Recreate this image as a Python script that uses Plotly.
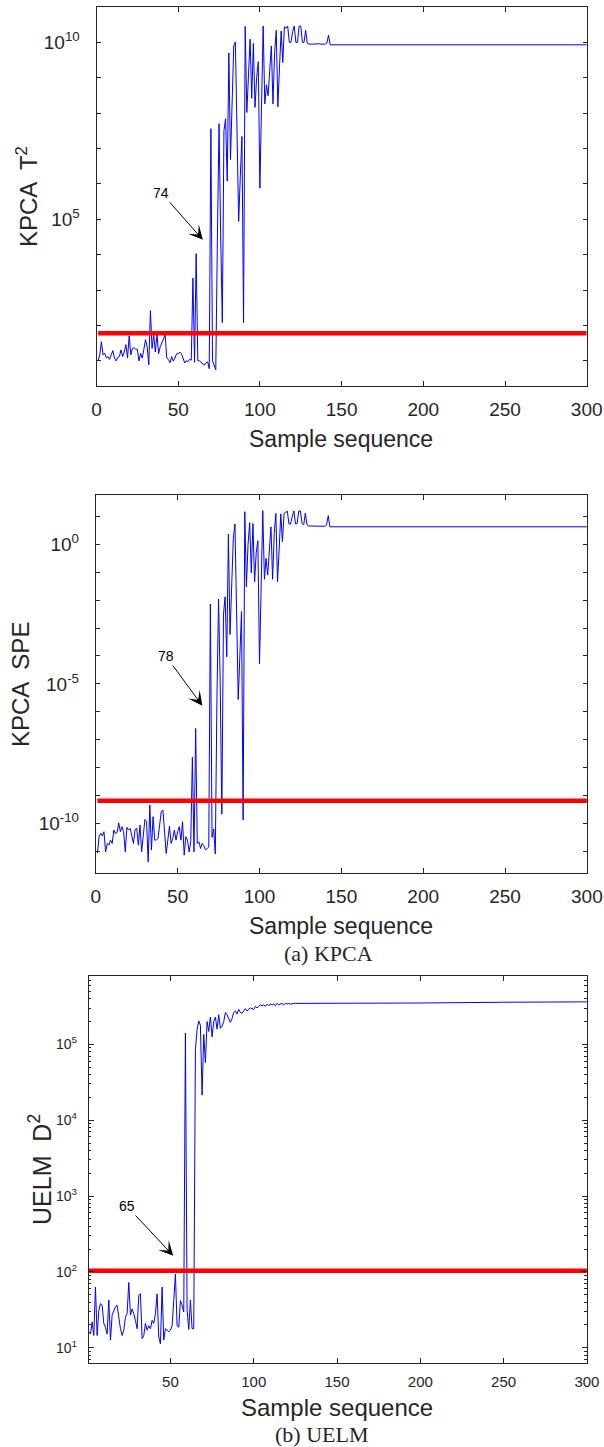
import plotly.graph_objects as go

W, H = 604, 1447

# ---------------- data (log10 of the statistic) -------------
sample_kpca = list(range(1, 146)) + [300]

t2_log10 = [
    1.0, 1.17, 1.54, 1.17, 1.22, 1.08, 1.12, 1.04, 1.17, 1.29,
    1.08, 1.0, 1.1, 1.12, 1.31, 1.12, 1.25, 1.46, 1.08, 1.71,
    1.17, 1.35, 1.37, 1.33, 1.33, 1.0, 1.21, 1.08, 1.33, 1.6,
    1.4, 0.89, 2.42, 1.35, 1.75, 1.25, 1.75, 1.2, 1.4, 1.54,
    1.62, 1.75, 1.08, 1.04, 0.95, 1.12, 0.99, 1.08, 1.2, 1.2,
    1.25, 1.2, 1.04, 0.94, 1.0, 0.98, 1.04, 1.02, 3.34, 0.96,
    4.03, 1.0, 1.0, 0.95, 0.9, 0.88, 0.95, 0.97, 0.78, 7.56,
    1.0, 0.85, 0.75, 4.5, 7.7, 4.5, 2.08, 7.5, 7.84, 6.08,
    9.7, 6.69, 8.3, 9.9, 10.01, 7.4, 4.94, 6.2, 7.34, 2.08,
    10.45, 8.02, 9.0, 10.09, 8.42, 9.97, 8.16, 9.0, 9.45, 5.88,
    8.2, 10.46, 8.26, 8.8, 8.49, 9.2, 9.9, 8.26, 9.71, 10.34,
    8.18, 9.3, 10.32, 9.43, 10.44, 10.4, 10.46, 10.0, 10.0, 10.3,
    10.46, 10.0, 10.0, 10.46, 10.46, 10.0, 10.0, 10.34, 9.97, 9.95,
    9.96, 9.95, 9.95, 9.96, 9.95, 9.96, 9.95, 9.95, 9.97, 9.95,
    9.98, 10.2, 9.93, 9.93, 9.93,
    9.93,
]

spe_log10 = [
    -11.08, -10.48, -10.36, -10.45, -10.3, -11.02, -10.72, -10.78, -10.6, -10.72,
    -10.24, -10.36, -10.33, -9.98, -10.3, -10.12, -10.3, -11.02, -10.14, -10.24,
    -10.18, -10.45, -10.72, -10.22, -10.18, -10.78, -10.06, -11.02, -10.36, -9.86,
    -9.94, -11.38, -9.34, -10.96, -9.76, -10.6, -10.6, -10.54, -10.06, -9.58,
    -9.52, -10.24, -11.08, -10.6, -10.1, -10.72, -10.54, -10.24, -10.6, -10.3,
    -10.12, -10.6, -9.94, -11.14, -10.48, -10.6, -11.02, -10.66, -7.63, -11.02,
    -6.6, -10.72, -10.66, -10.9, -10.72, -10.8, -10.95, -10.9, -10.85, -2.14,
    -10.5, -10.2, -11.1, -5.5, -1.96, -5.0, -9.67, -2.5, -1.88, -4.03,
    0.37, -3.23, -1.5, 0.2, 0.73, -2.5, -5.56, -4.0, -2.41, -9.88,
    1.17, -1.52, 0.0, 0.78, -1.02, 0.75, -1.34, -0.3, 0.13, -4.29,
    -1.0, 1.21, -1.25, -0.5, -1.1, -0.2, 0.63, -1.25, 0.39, 1.11,
    -1.34, -0.2, 1.09, 0.1, 1.11, 1.15, 1.19, 0.73, 0.73, 1.0,
    1.2, 0.73, 0.75, 1.2, 1.2, 0.75, 0.7, 1.12, 0.7, 0.66,
    0.66, 0.65, 0.66, 0.66, 0.65, 0.66, 0.65, 0.66, 0.67, 0.65,
    0.7, 1.03, 0.63, 0.63, 0.63,
    0.63,
]

sample_uelm = list(range(1, 146)) + [200, 250, 300]

d2_log10 = [
    1.21, 1.18, 1.34, 1.16, 1.8, 1.16, 1.49, 1.58, 1.56, 1.32,
    1.27, 1.18, 1.63, 1.1, 1.43, 1.49, 1.54, 1.56, 1.4, 1.25,
    1.16, 1.23, 1.4, 1.45, 1.86, 1.43, 1.51, 1.45, 1.36, 1.25,
    1.69, 1.71, 1.12, 1.16, 1.32, 1.23, 1.29, 1.25, 1.36, 1.32,
    1.45, 1.71, 1.14, 1.05, 1.8, 1.1, 1.25, 1.23, 1.21, 1.23,
    1.29, 1.62, 1.97, 1.29, 1.27, 1.62, 1.56, 1.47, 5.15, 1.5,
    1.24, 1.63, 1.25, 1.25, 4.93, 5.2, 5.31, 5.25, 4.33, 5.13,
    4.76, 5.3, 5.17, 5.36, 5.1, 5.3, 5.36, 5.2, 5.39, 5.21,
    5.24, 5.3, 5.42, 5.39, 5.33, 5.29, 5.34, 5.42, 5.44, 5.4,
    5.46, 5.42, 5.41, 5.45, 5.47, 5.44, 5.46, 5.48, 5.47, 5.46,
    5.5, 5.48, 5.5, 5.52, 5.51, 5.52, 5.5, 5.53, 5.51, 5.53,
    5.52, 5.53, 5.51, 5.54, 5.52, 5.53, 5.54, 5.52, 5.54, 5.53,
    5.54, 5.53, 5.54, 5.54, 5.54, 5.54, 5.54, 5.54, 5.54, 5.54,
    5.54, 5.54, 5.54, 5.54, 5.54, 5.54, 5.54, 5.54, 5.54, 5.54,
    5.54, 5.54, 5.54, 5.54, 5.54,
    5.545, 5.555, 5.56,
]

limit_x = [1, 300]
t2_limit_log10 = 1.78
spe_limit_log10 = -9.19
d2_limit_log10 = 2.015

x_ticks_kpca = [0, 50, 100, 150, 200, 250, 300]
x_ticks_uelm = [50, 100, 150, 200, 250, 300]

t2_labelled = [5, 10]
t2_unlabelled = [1, 2, 3, 4, 6, 7, 8, 9]
spe_labelled = [-10, -5, 0]
spe_unlabelled = [-11, -9, -8, -7, -6, -4, -3, -2, -1, 1]
d2_labelled = [1, 2, 3, 4, 5]

# ---------------- helpers ----------------
def px_x(p):
    return p / W


def px_y(p):
    return 1 - p / H


def to_val(logs):
    return [10 ** v for v in logs]


AX = '#262626'
SANS = 'Liberation Sans, Arial, sans-serif'
SERIF = 'Liberation Serif, Times New Roman, serif'
BLUE = '#0000FF'
RED = '#FF0000'

fig = go.Figure()

panels = [
    dict(x=sample_kpca, y=t2_log10, lim=t2_limit_log10, xa='x', ya='y'),
    dict(x=sample_kpca, y=spe_log10, lim=spe_limit_log10, xa='x2', ya='y2'),
    dict(x=sample_uelm, y=d2_log10, lim=d2_limit_log10, xa='x3', ya='y3'),
]
for p in panels:
    fig.add_trace(go.Scatter(x=p['x'], y=to_val(p['y']), mode='lines',
                             line=dict(color=BLUE, width=1),
                             xaxis=p['xa'], yaxis=p['ya'], hoverinfo='skip'))
    fig.add_trace(go.Scatter(x=limit_x, y=to_val([p['lim'], p['lim']]), mode='lines',
                             line=dict(color=RED, width=4.5),
                             xaxis=p['xa'], yaxis=p['ya'], hoverinfo='skip'))

common = dict(showline=True, linecolor=AX, linewidth=1, mirror='ticks',
              ticks='inside', tickcolor=AX, showgrid=False, zeroline=False,
              tickwidth=1)


def sup(k):
    return f'10<sup>{k}</sup>'


# panel 1
fig.update_layout(
    xaxis=dict(common, domain=[px_x(96.5), px_x(586.7)], anchor='y', range=[0, 300],
               tickvals=x_ticks_kpca, ticklen=5,
               tickfont=dict(family=SANS, size=19, color=AX), ticklabelstandoff=6),
    yaxis=dict(common, domain=[px_y(386), px_y(7.3)], anchor='x', type='log',
               range=[0.29, 10.99], tickvals=[10 ** k for k in t2_labelled],
               ticktext=[sup(k) for k in t2_labelled], ticklen=4,
               tickfont=dict(family=SANS, size=19, color=AX), ticklabelstandoff=12,
               minor=dict(ticks='inside', ticklen=4, tickcolor=AX,
                          tickvals=[10 ** k for k in t2_unlabelled])),
)
# panel 2
fig.update_layout(
    xaxis2=dict(common, domain=[px_x(95.8), px_x(586.9)], anchor='y2', range=[0, 300],
                tickvals=x_ticks_kpca, ticklen=5,
                tickfont=dict(family=SANS, size=19, color=AX), ticklabelstandoff=6),
    yaxis2=dict(common, domain=[px_y(873.3), px_y(495)], anchor='x2', type='log',
                range=[-11.79, 1.77], tickvals=[10 ** k for k in spe_labelled],
                ticktext=[sup(k) for k in spe_labelled], ticklen=4,
                tickfont=dict(family=SANS, size=19, color=AX), ticklabelstandoff=12,
                minor=dict(ticks='inside', ticklen=4, tickcolor=AX,
                           tickvals=[10 ** k for k in spe_unlabelled])),
)
# panel 3
minor_vals = [m * 10 ** k for k in range(0, 6) for m in range(2, 10)]
fig.update_layout(
    xaxis3=dict(common, domain=[px_x(88.8), px_x(586.9)], anchor='y3', range=[1, 300],
                tickvals=x_ticks_uelm, ticklen=5,
                tickfont=dict(family=SANS, size=15, color=AX), ticklabelstandoff=5),
    yaxis3=dict(common, domain=[px_y(1363.3), px_y(975.7)], anchor='x3', type='log',
                range=[0.794, 5.905], tickvals=[10 ** k for k in d2_labelled],
                ticktext=[sup(k) for k in d2_labelled], ticklen=5,
                tickfont=dict(family=SANS, size=14, color=AX), ticklabelstandoff=8,
                minor=dict(ticks='inside', ticklen=2.5, tickcolor=AX, tickvals=minor_vals)),
)

annotations = []


def text_ann(txt, x, y, size, family=SANS, angle=0):
    annotations.append(dict(text=txt, xref='paper', yref='paper', x=px_x(x), y=px_y(y),
                            xanchor='center', yanchor='middle', showarrow=False,
                            textangle=angle, font=dict(family=family, size=size, color=AX)))


text_ann('Sample sequence', 341, 439, 23)
text_ann('Sample sequence', 341, 925.7, 23)
text_ann('Sample sequence', 337, 1407, 24)
text_ann('KPCA  T<sup>2</sup>', 27, 197, 24, angle=-90)
text_ann('KPCA  SPE', 21, 685, 24, angle=-90)
text_ann('UELM  D<sup>2</sup>', 40, 1170, 25, angle=-90)
text_ann('(a) KPCA', 328, 953, 22, family=SERIF)
text_ann('(b) UELM', 321, 1434, 22, family=SERIF)


def arrow_ann(txt, xref, yref, x, ylog, ax, ay):
    annotations.append(dict(text=txt, xref=xref, yref=yref, x=x, y=ylog,
                            ax=ax, ay=ay, showarrow=True, arrowhead=3, arrowsize=2.4,
                            arrowwidth=1, arrowcolor='black',
                            font=dict(family=SANS, size=14, color='black')))


arrow_ann('74', 'x', 'y', 65.1, 4.42, -41.5, -47)
arrow_ann('78', 'x2', 'y2', 65.1, -5.785, -36.5, -49.7)
arrow_ann('65', 'x3', 'y3', 51.7, 2.213, -46.6, -49.7)

fig.update_layout(annotations=annotations, width=W, height=H, autosize=False,
                  margin=dict(l=0, r=0, t=0, b=0, autoexpand=False), showlegend=False,
                  plot_bgcolor='white', paper_bgcolor='white')

fig.write_html('out.html', config={'responsive': False, 'displayModeBar': False},
               post_script="document.documentElement.style.overflow='hidden';"
                           "document.body.style.overflow='hidden';"
                           "document.body.style.margin='0';")
